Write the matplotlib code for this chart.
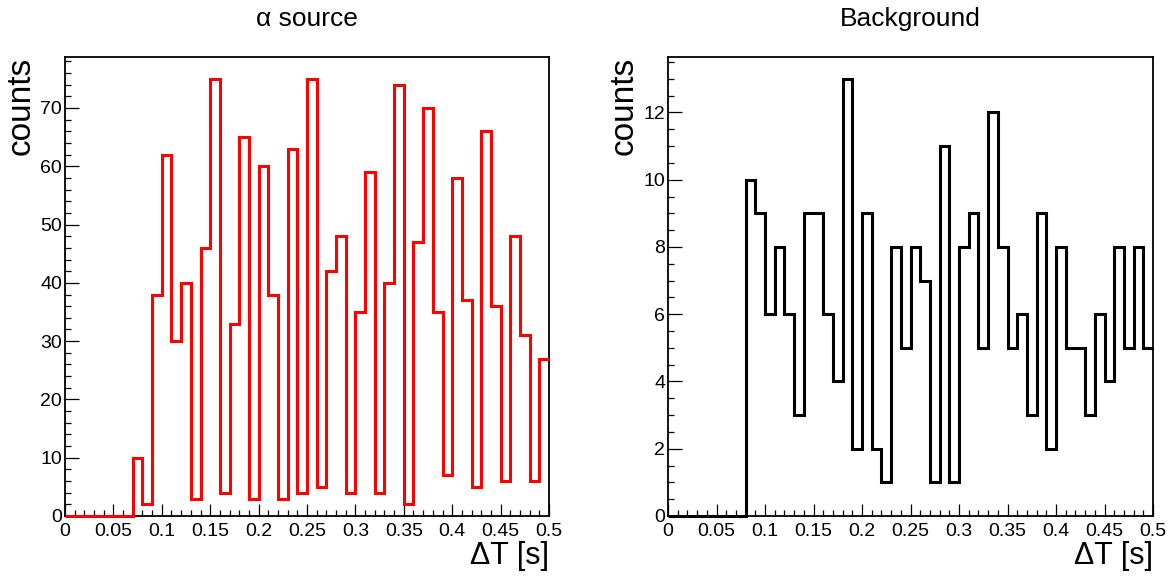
import numpy as np
import matplotlib
matplotlib.use("Agg")
import matplotlib.pyplot as plt
from matplotlib.ticker import MultipleLocator, FuncFormatter

plt.rcParams['font.family'] = ['Liberation Sans', 'DejaVu Sans']

# 50 bins of 0.01 s between 0 and 0.5 s
edges = np.linspace(0, 0.5, 51)

# alpha source histogram
alpha_counts = [0, 0, 0, 0, 0, 0, 0, 10, 2, 38,
                62, 30, 40, 3, 46, 75, 4, 33, 65, 3,
                60, 38, 3, 63, 4, 75, 5, 42, 48, 4,
                35, 59, 4, 40, 74, 2, 47, 70, 35, 7,
                58, 37, 5, 66, 36, 6, 48, 31, 6, 27]

# background histogram
bkg_counts = [0, 0, 0, 0, 0, 0, 0, 0, 10, 9,
              6, 8, 6, 3, 9, 9, 6, 4, 13, 2,
              9, 2, 1, 8, 5, 8, 7, 1, 11, 1,
              8, 9, 5, 12, 8, 5, 6, 3, 9, 2,
              8, 5, 5, 3, 6, 4, 8, 5, 8, 5]

titles = ["\u03b1 source", "Background"]

fig = plt.figure(figsize=(11.73, 5.78), dpi=100)
ax1 = fig.add_axes([65 / 1173, 1 - 516 / 578, 484 / 1173, 459 / 578])
ax2 = fig.add_axes([668 / 1173, 1 - 516 / 578, 485 / 1173, 459 / 578])


def style_axis(ax, counts, color, title, ymajor, yminor):
    ax.stairs(counts, edges, color=color, linewidth=2.2, baseline=None,
              clip_on=False, zorder=3)
    ax.set_xlim(0, 0.5)
    ax.set_ylim(0, max(counts) * 1.05)
    ax.xaxis.set_major_locator(MultipleLocator(0.05))
    ax.xaxis.set_minor_locator(MultipleLocator(0.01))
    ax.yaxis.set_major_locator(MultipleLocator(ymajor))
    ax.yaxis.set_minor_locator(MultipleLocator(yminor))
    ax.xaxis.set_major_formatter(FuncFormatter(lambda v, p: f"{v:g}"))
    ax.yaxis.set_major_formatter(FuncFormatter(lambda v, p: f"{v:g}"))
    ax.tick_params(which='both', direction='in', top=False, right=False,
                   labelsize=14, width=0.9)
    ax.tick_params(axis='x', which='major', length=9, pad=5)
    ax.tick_params(axis='x', which='minor', length=4.5)
    ax.tick_params(axis='y', which='major', length=10, pad=2)
    ax.tick_params(axis='y', which='minor', length=4.5)
    for s in ax.spines.values():
        s.set_linewidth(1.3)
    ax.set_title(title, fontsize=19, pad=22)
    ax.set_ylabel("counts", fontsize=24, loc='top', va='center')
    ax.yaxis.set_label_coords(-0.09, 1.0)
    ax.set_xlabel("\u0394T [s]", fontsize=22, loc='right')
    ax.xaxis.set_label_coords(1.0, -0.055)


style_axis(ax1, alpha_counts, 'red', titles[0], 10, 2)
style_axis(ax2, bkg_counts, 'black', titles[1], 2, 0.5)

fig.savefig("out.png", dpi=100)
